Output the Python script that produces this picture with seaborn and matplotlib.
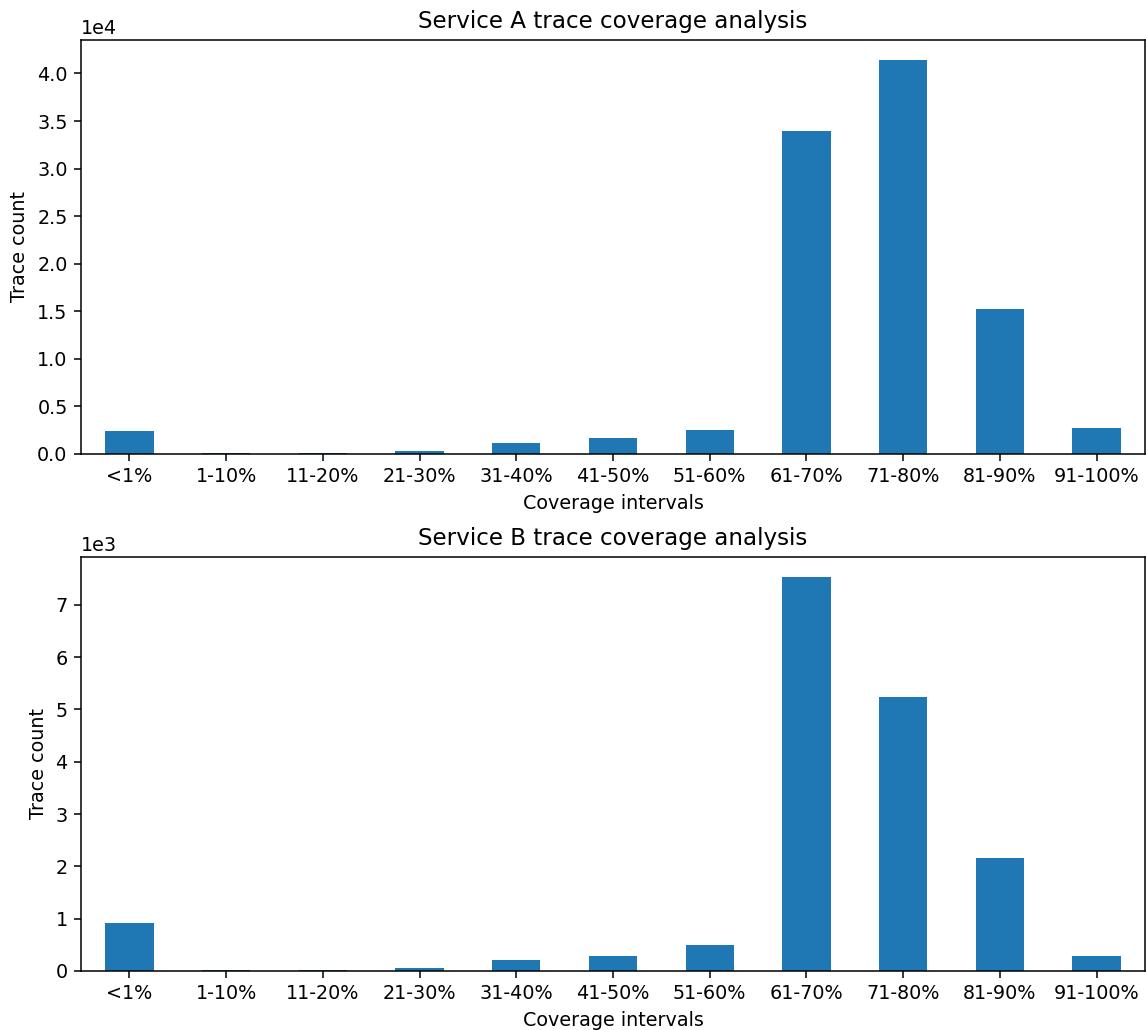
import matplotlib
matplotlib.use("Agg")
import matplotlib.pyplot as plt
import seaborn as sns
import pandas as pd

intervals = ["<1%", "1-10%", "11-20%", "21-30%", "31-40%", "41-50%",
             "51-60%", "61-70%", "71-80%", "81-90%", "91-100%"]
service_a_counts = [2450, 50, 50, 350, 1190, 1710, 2550, 33940, 41450, 15260, 2760]
service_b_counts = [924, 15, 15, 64, 216, 293, 503, 7539, 5245, 2166, 293]

plt.rcParams["font.family"] = ["DejaVu Sans"]

DPI = 138
fig, axes = plt.subplots(2, 1, figsize=(1146 / DPI, 1030 / DPI), dpi=DPI)
fig.subplots_adjust(left=0.0707, right=0.9991, top=0.9612, bottom=0.0573, hspace=0.2488)

panels = [("Service A trace coverage analysis", service_a_counts),
          ("Service B trace coverage analysis", service_b_counts)]

for ax, (title, counts) in zip(axes, panels):
    df = pd.DataFrame({"interval": intervals, "count": counts})
    sns.barplot(data=df, x="interval", y="count", ax=ax, color="#1f77b4",
                saturation=1, width=0.5, order=intervals, linewidth=0)
    ax.set_title(title)
    ax.set_xlabel("Coverage intervals")
    ax.set_ylabel("Trace count")
    ax.ticklabel_format(axis="y", style="sci", scilimits=(0, 0))
    ax.set_xlim(-0.5, len(intervals) - 0.5)

fig.savefig("out.png", dpi=DPI)
